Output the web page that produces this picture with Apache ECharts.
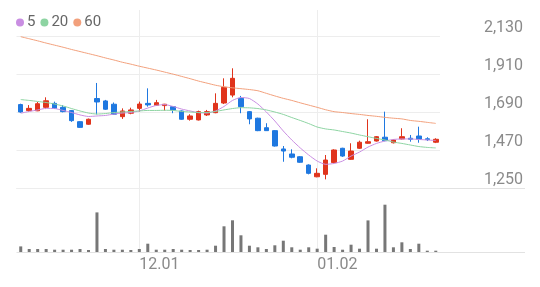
<!DOCTYPE html>
<html><head><meta charset="utf-8">
<script src="https://cdn.jsdelivr.net/npm/echarts@6.0.0/dist/echarts.min.js"></script>
<style>html,body{margin:0;padding:0;background:#fff}#c{width:540px;height:287px}</style>
</head><body><div id="c"></div>
<script>
// ---- data ----
const dates = ['11.11','11.14','11.15','11.16','11.17','11.18','11.21','11.22','11.23','11.24',
  '11.25','11.28','11.29','11.30','12.01','12.02','12.05','12.06','12.07','12.08',
  '12.09','12.12','12.13','12.14','12.15','12.16','12.19','12.20','12.21','12.22',
  '12.23','12.26','12.27','12.28','12.29','01.02','01.03','01.04','01.05','01.06',
  '01.09','01.10','01.11','01.12','01.13','01.16','01.17','01.18','01.19','01.20'];
// [open, close, low, high]
const candles = [
  [1733,1690,1686,1738],[1698,1711,1692,1730],[1697,1738,1695,1748],[1717,1755,1707,1775],[1740,1711,1707,1750],
  [1717,1692,1688,1730],[1698,1640,1633,1702],[1634,1601,1598,1637],[1619,1648,1616,1652],[1768,1748,1676,1858],
  [1754,1706,1702,1760],[1735,1677,1674,1745],[1663,1696,1650,1711],[1683,1702,1677,1715],[1711,1736,1692,1750],
  [1740,1731,1721,1827],[1729,1744,1725,1760],[1727,1735,1698,1737],[1721,1702,1683,1724],[1696,1648,1645,1699],
  [1648,1667,1640,1677],[1644,1692,1641,1698],[1673,1692,1667,1702],[1686,1740,1683,1798],[1742,1833,1736,1885],
  [1788,1885,1775,1943],[1769,1721,1683,1783],[1692,1650,1619,1695],[1654,1582,1579,1657],[1599,1582,1580,1625],
  [1582,1493,1490,1585],[1476,1464,1402,1493],[1447,1428,1422,1474],[1431,1399,1396,1434],[1383,1335,1329,1387],
  [1315,1335,1312,1364],[1329,1412,1300,1441],[1397,1470,1392,1474],[1480,1435,1430,1483],[1416,1464,1413,1509],
  [1480,1515,1476,1524],[1509,1518,1507,1648],[1522,1547,1519,1551],[1544,1524,1521,1692],[1512,1528,1508,1531],
  [1534,1547,1531,1596],[1538,1532,1518,1557],[1551,1532,1512,1605],[1535,1530,1522,1544],[1515,1532,1510,1538]
];
const volumes = [56,30,30,30,23,23,23,30,20,396,30,23,23,20,30,83,23,23,30,23,
  20,20,23,63,257,317,167,63,47,30,67,113,47,23,47,33,173,50,23,73,
  33,316,33,473,47,97,30,83,13,13];
const ma5 = [1683,1693,1702,1711,1710,1699,1687,1673,1664,1667,1670,1678,1684,1687,1696,1713,1728,1733,1722,1707,
  1696,1686,1684,1696,1722,1757,1774,1768,1736,1690,1638,1580,1528,1482,1441,1406,1387,1392,1406,1435,
  1458,1487,1508,1522,1531,1534,1534,1531,1528,1525];
const ma20 = [1762,1757,1751,1745,1736,1725,1710,1696,1684,1678,1681,1687,1690,1693,1696,1699,1699,1700,1699,1693,
  1690,1687,1687,1693,1702,1710,1715,1714,1710,1702,1690,1676,1658,1641,1623,1603,1592,1586,1577,1568,
  1557,1547,1537,1528,1516,1508,1499,1490,1485,1482];
const ma60 = [2126,2114,2102,2089,2077,2065,2052,2040,2028,2016,2003,1991,1978,1967,1955,1944,1933,1921,1909,1896,
  1883,1869,1857,1845,1836,1830,1825,1820,1813,1798,1783,1769,1757,1743,1730,1717,1703,1692,1687,1681,
  1676,1670,1665,1659,1654,1650,1641,1636,1630,1624];
const priceTicks = [1250,1470,1690,1910,2130];
const dateTicks = ['12.01','01.02'];
const maNames = ['5','20','60'];

// ---- layout / style ----
const W = 540, L = 16.5, R = 440, T = 10, MID = 188, B = 252;
const UP = '#e0341c', DOWN = '#1f78e0';
const MA_COLORS = ['#c98ee2', '#8dd4a2', '#f2a07c'];
const GRID_C = '#ededed';
const showDate = (i, v) => dateTicks.indexOf(v) >= 0;

const chart = echarts.init(document.getElementById('c'), null, {renderer: 'canvas'});
chart.setOption({
  animation: false,
  textStyle: {fontFamily: 'Roboto'},
  legend: {
    left: 16, top: 15, padding: 0, itemGap: 5, itemWidth: 8, itemHeight: 8, icon: 'circle',
    data: maNames, textStyle: {fontSize: 15, color: '#666', fontFamily: 'Roboto', padding: [0, 0, 0, -2]}
  },
  grid: [
    {left: L, right: W - R, top: T, height: MID - T},
    {left: L, right: W - R, top: MID, height: B - MID}
  ],
  xAxis: [
    {type: 'category', gridIndex: 0, data: dates, boundaryGap: true,
      axisLine: {show: false}, axisTick: {show: false, alignWithLabel: true, interval: showDate},
      axisLabel: {show: false},
      splitLine: {show: true, interval: showDate, alignWithLabel: true, lineStyle: {color: GRID_C, width: 1}}},
    {type: 'category', gridIndex: 1, data: dates, boundaryGap: true,
      axisLine: {show: false}, axisTick: {show: false, alignWithLabel: true, interval: showDate},
      axisLabel: {show: true, interval: showDate, align: 'left', margin: 5, fontSize: 16, color: '#8a8a8a', fontFamily: 'Roboto'},
      splitLine: {show: true, interval: showDate, alignWithLabel: true, lineStyle: {color: GRID_C, width: 1}}}
  ],
  yAxis: [
    {type: 'value', gridIndex: 0, position: 'right', min: 1250, max: 2280.5,
      axisLine: {show: false}, axisTick: {show: false, customValues: priceTicks},
      axisLabel: {customValues: priceTicks, formatter: v => Math.round(v).toLocaleString('en-US'),
        align: 'right', verticalAlign: 'bottom', margin: 83, fontSize: 16, color: '#8a8a8a', fontFamily: 'Roboto'},
      splitLine: {show: true, lineStyle: {color: GRID_C, width: 1}}},
    {type: 'value', gridIndex: 1, min: 0, max: 640, show: false, splitLine: {show: false}}
  ],
  graphic: [
    {type: 'line', shape: {x1: L, y1: MID + 0.5, x2: 525, y2: MID + 0.5}, style: {stroke: '#e2e2e2', lineWidth: 1}, silent: true},
    {type: 'line', shape: {x1: L, y1: B + 0.5, x2: 525, y2: B + 0.5}, style: {stroke: '#e2e2e2', lineWidth: 1}, silent: true}
  ],
  series: [
    {type: 'candlestick', name: 'price', xAxisIndex: 0, yAxisIndex: 0, data: candles, barWidth: 5,
      itemStyle: {color: UP, color0: DOWN, borderColor: UP, borderColor0: DOWN, borderWidth: 1}},
    {type: 'line', name: maNames[0], xAxisIndex: 0, yAxisIndex: 0, data: ma5, showSymbol: false, smooth: 0.2,
      lineStyle: {width: 1, color: MA_COLORS[0]}, itemStyle: {color: MA_COLORS[0]}},
    {type: 'line', name: maNames[1], xAxisIndex: 0, yAxisIndex: 0, data: ma20, showSymbol: false, smooth: 0.2,
      lineStyle: {width: 1, color: MA_COLORS[1]}, itemStyle: {color: MA_COLORS[1]}},
    {type: 'line', name: maNames[2], xAxisIndex: 0, yAxisIndex: 0, data: ma60, showSymbol: false, smooth: 0.2,
      lineStyle: {width: 1, color: MA_COLORS[2]}, itemStyle: {color: MA_COLORS[2]}},
    {type: 'bar', name: 'volume', xAxisIndex: 1, yAxisIndex: 1, data: volumes, barWidth: 3,
      itemStyle: {color: '#777777'}}
  ]
});
</script>
</body></html>
